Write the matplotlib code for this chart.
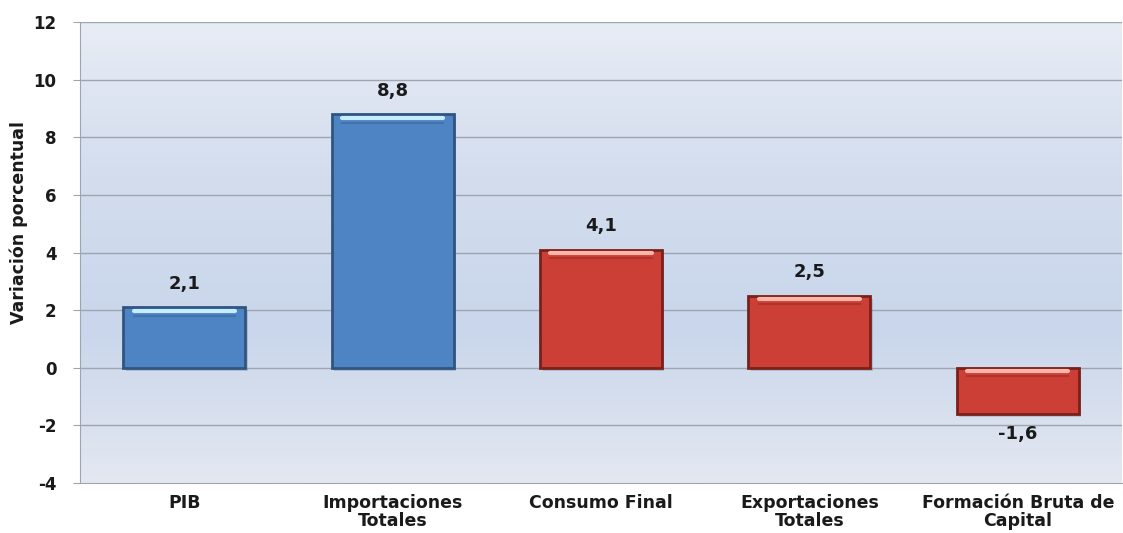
import numpy as np
import matplotlib
matplotlib.use("Agg")
import matplotlib.pyplot as plt
from matplotlib.colors import LinearSegmentedColormap

categories = ["PIB", "Importaciones\nTotales", "Consumo Final",
              "Exportaciones\nTotales", "Formación Bruta de\nCapital"]
values = [2.1, 8.8, 4.1, 2.5, -1.6]
labels = ["2,1", "8,8", "4,1", "2,5", "-1,6"]
colors = ["#4f84c4", "#4f84c4", "#cc3f37", "#cc3f37", "#cc3f37"]
edges = ["#2f5580", "#2f5580", "#7a201a", "#7a201a", "#7a201a"]
highlights = ["#c8ecff", "#c8ecff", "#ffb5a8", "#ffb5a8", "#ffb5a8"]
yticks = [-4, -2, 0, 2, 4, 6, 8, 10, 12]

plt.rcParams["font.family"] = ["DejaVu Sans"]

fig = plt.figure(figsize=(11.23, 5.33), dpi=100)
ax = fig.add_axes([80 / 1123, 50 / 533, 1042 / 1123, 461 / 533])

x = np.arange(len(categories))
ax.set_xlim(-0.5, len(categories) - 0.5)
ax.set_ylim(-4, 12)

# background gradient
bg = LinearSegmentedColormap.from_list("bg", ["#e4e8f1", "#c9d6eb", "#d3ddee", "#e8ecf5"])
grad = np.linspace(1, 0, 256).reshape(-1, 1)
ax.imshow(grad, cmap=bg, aspect="auto", extent=(-0.5, len(categories) - 0.5, -4, 12), zorder=0)

for y in yticks[1:]:
    ax.axhline(y, color="#9ea4b0", lw=1, zorder=1)

w = 0.585
# soft shadow
ax.bar(x + 0.012, values, width=w, bottom=-0.12, color="#5a6070", alpha=0.25, linewidth=0, zorder=2)
ax.bar(x, values, width=w, color=colors, edgecolor=edges, linewidth=2, zorder=3)
# bevel highlight near the top of each bar
for xi, v, hc, ec in zip(x, values, highlights, edges):
    top = max(v, 0)
    ax.plot([xi - w / 2 + 0.05, xi + w / 2 - 0.05], [top - 0.13, top - 0.13],
            color=hc, lw=3, solid_capstyle="round", zorder=4)
    ax.plot([xi - w / 2 + 0.05, xi + w / 2 - 0.05], [top - 0.3, top - 0.3],
            color=ec, lw=1.5, alpha=0.35, zorder=4)

for xi, v, lab in zip(x, values, labels):
    if v >= 0:
        ax.text(xi, v + 0.5, lab, ha="center", va="bottom", fontsize=13, fontweight="bold", color="#1a1a1a")
    else:
        ax.text(xi, v - 0.4, lab, ha="center", va="top", fontsize=13, fontweight="bold", color="#1a1a1a")

ax.set_yticks(yticks)
ax.set_yticklabels([str(t) for t in yticks], fontsize=12, fontweight="bold", color="#1a1a1a")
ax.set_xticks(x)
ax.set_xticklabels(categories, fontsize=12.5, fontweight="bold", linespacing=1.0, color="#1a1a1a")
ax.tick_params(axis="x", length=0, pad=8)
ax.tick_params(axis="y", length=5, color="#9ea4b0", pad=12)
ax.set_ylabel("Variación porcentual", fontsize=12.5, fontweight="bold", color="#1a1a1a")
ax.yaxis.set_label_coords(-0.05, 0.566)

for s in ["top", "right"]:
    ax.spines[s].set_visible(False)
ax.spines["left"].set_color("#9ea4b0")
ax.spines["bottom"].set_color("#9ea4b0")

fig.savefig("out.png", dpi=100)
